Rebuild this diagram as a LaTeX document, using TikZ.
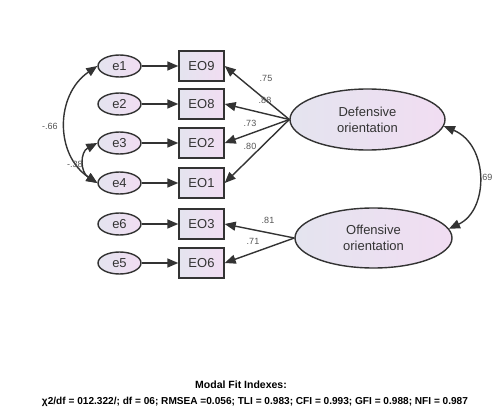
\documentclass[tikz,border=0pt]{standalone}
\usepackage{fontspec}
\setmainfont{Liberation Sans}
\usetikzlibrary{arrows.meta,shapes.geometric}
\definecolor{lineC}{HTML}{333333}
\definecolor{fillL}{HTML}{E4E4EF}
\definecolor{fillR}{HTML}{F1DDF2}
\definecolor{labC}{HTML}{555555}
\tikzset{
  errnode/.style={ellipse,draw=lineC,line width=1.4pt,left color=fillL,right color=fillR,
    minimum width=43pt,minimum height=22pt,inner sep=0pt,font=\fontsize{13}{13}\selectfont,text=lineC},
  obsnode/.style={rectangle,draw=lineC,line width=1.4pt,left color=fillL,right color=fillR,
    minimum width=45pt,minimum height=30pt,inner sep=0pt,font=\fontsize{13}{13}\selectfont,text=lineC},
  latnode/.style={ellipse,draw=lineC,line width=1.4pt,left color=fillL,right color=fillR,
    minimum width=155pt,minimum height=61pt,inner sep=0pt,align=center,
    font=\fontsize{13}{16}\selectfont,text=lineC},
  arr/.style={draw=lineC,line width=1.4pt,-{Triangle[length=11pt,width=9pt]}},
  covarr/.style={draw=lineC,line width=1.4pt,{Triangle[length=11pt,width=9pt]}-{Triangle[length=11pt,width=9pt]}},
  lab/.style={font=\fontsize{9}{9}\selectfont,text=labC,inner sep=0pt},
  fit/.style={font=\bfseries\fontsize{10.1}{10.1}\selectfont,text=black,inner sep=0pt},
}
\begin{document}
\begin{tikzpicture}[x=1pt,y=-1pt]
\useasboundingbox (0,0) rectangle (493,409);
\fill[white] (0,0) rectangle (493,409);
% error terms
\node[errnode] (e1) at (119.5,66) {e1};
\node[errnode] (e2) at (119.5,104) {e2};
\node[errnode] (e3) at (119.5,143) {e3};
\node[errnode] (e4) at (119.5,183) {e4};
\node[errnode] (e6) at (119.5,224) {e6};
\node[errnode] (e5) at (119.5,263) {e5};
% observed
\node[obsnode] (EO9) at (201.5,66) {EO9};
\node[obsnode] (EO8) at (201.5,104) {EO8};
\node[obsnode] (EO2) at (201.5,143) {EO2};
\node[obsnode] (EO1) at (201.5,183) {EO1};
\node[obsnode] (EO3) at (201.5,224) {EO3};
\node[obsnode] (EO6) at (201.5,263) {EO6};
% latent
\node[latnode] (D) at (367.5,119.5) {Defensive\\orientation};
\node[latnode,minimum width=157pt,minimum height=60pt] (O) at (373.5,238) {Offensive\\orientation};
% error arrows
\draw[arr] (e1) -- (EO9);
\draw[arr] (e2) -- (EO8);
\draw[arr] (e3) -- (EO2);
\draw[arr] (e4) -- (EO1);
\draw[arr] (e6) -- (EO3);
\draw[arr] (e5) -- (EO6);
% loadings
\draw[arr] (D.west) -- (EO9.east);
\draw[arr] (D.west) -- (EO8.east);
\draw[arr] (D.west) -- (EO2.east);
\draw[arr] (D.west) -- (EO1.east);
\draw[arr] (O.west) -- (EO3.east);
\draw[arr] (O.west) -- (EO6.east);
\node[lab] (l75) at (266,78) {.75};
\node[lab] (l88) at (265,100) {.88};
\node[lab] (l73) at (250,123) {.73};
\node[lab] (l80) at (250,146) {.80};
\node[lab] (l81) at (268,220) {.81};
\node[lab] (l71) at (253,241) {.71};
% covariances
\draw[covarr] (e1.west) .. controls (55,95) and (55,155) .. (e4.west);
\draw[covarr] (e3.west) .. controls (80,152) and (80,172) .. (e4.west);
\draw[covarr] (D.-5) .. controls (489,145) and (489,210) .. (O.7);
\node[lab] (l66) at (50,126) {-.66};
\node[lab] (l38) at (75,164) {-.38};
\node[lab,anchor=east] (l69) at (492.5,177) {.69};
% fit indexes
\node[fit,font=\bfseries\fontsize{10.5}{10.5}\selectfont] (t1) at (241,385) {Modal Fit Indexes:};
\node[fit] (t2) at (255,402) {χ2/df = 012.322/; df = 06; RMSEA =0.056; TLI = 0.983; CFI = 0.993; GFI = 0.988; NFI = 0.987};
\end{tikzpicture}
\end{document}
